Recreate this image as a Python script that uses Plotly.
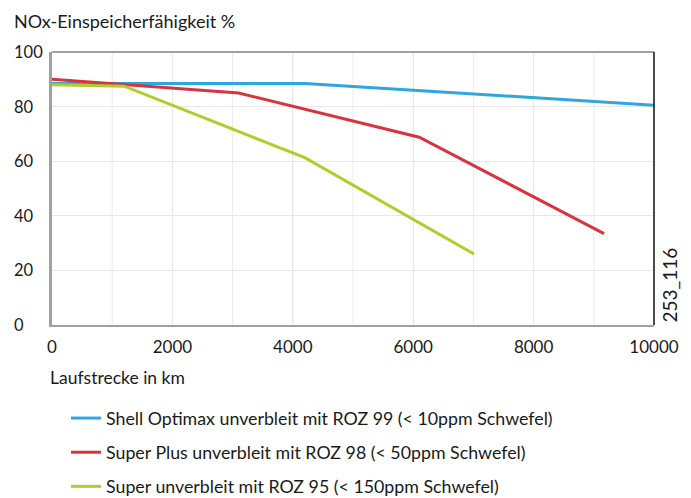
import plotly.graph_objects as go

# ---- data ----
km_optimax = [0, 2500, 4200, 10000]
val_optimax = [88.5, 88.6, 88.5, 80.5]

km_superplus = [0, 3100, 6100, 9170]
val_superplus = [90, 85, 68.8, 33.5]

km_super = [0, 1200, 4200, 7010]
val_super = [88, 87.5, 61.3, 26]

names = [
    "Shell Optimax unverbleit mit ROZ 99 (< 10ppm Schwefel)",
    "Super Plus unverbleit mit ROZ 98 (< 50ppm Schwefel)",
    "Super unverbleit mit ROZ 95 (< 150ppm Schwefel)",
]
colors = ["#2ea7de", "#d8343f", "#b4cb2c"]

x_ticks = [0, 2000, 4000, 6000, 8000, 10000]
x_ticktext = ["0", "2000", "4000", "6000", "8000", "10000"]
y_ticks = [0, 20, 40, 60, 80, 100]

y_title = "NOx-Einspeicherfähigkeit %"
x_title = "Laufstrecke in km"
code_label = "253_116"

FONT = "Lato"
TXT = "#1a1a1a"
OFF = 8                      # page body margin offset
W, H = 691 - OFF, 498 - OFF
# plot box in window pixels: x 52..654, y 52..325
L, T = 52 - OFF, 52 - OFF
PW, PH = 602, 273
R = W - L - PW
B = H - T - PH


def px_x(xwin):
    return (xwin - OFF - L) / PW


def px_y(ywin):
    return (T + PH - (ywin - OFF)) / PH


fig = go.Figure()
for i, (xs, ys) in enumerate([(km_optimax, val_optimax),
                               (km_superplus, val_superplus),
                               (km_super, val_super)]):
    fig.add_trace(go.Scatter(
        x=xs, y=ys, mode="lines", name=names[i],
        line=dict(color=colors[i], width=3),
        legendgroup=f"g{i}",
    ))

fig.update_layout(
    width=W, height=H,
    margin=dict(l=L, r=R, t=T, b=B, autoexpand=False),
    paper_bgcolor="white", plot_bgcolor="white",
    font=dict(family=FONT, size=17, color=TXT),
    showlegend=True,
    legend=dict(
        x=px_x(66), y=px_y(400), xanchor="left", yanchor="top",
        traceorder="grouped", tracegroupgap=8,
        font=dict(family=FONT, size=17.8, color=TXT),
        bgcolor="rgba(0,0,0,0)",
    ),
    xaxis=dict(
        range=[0, 10000], tickvals=x_ticks, ticktext=x_ticktext,
        showgrid=True, gridcolor="#e8e8e8", gridwidth=1,
        showline=True, linecolor="#a0a0a0", linewidth=2,
        ticks="", ticklabelstandoff=6,
        tickfont=dict(family=FONT, size=17, color=TXT),
        zeroline=False,
    ),
    yaxis=dict(
        range=[0, 100], tickvals=y_ticks, showticklabels=False,
        showgrid=True, gridcolor="#e8e8e8", gridwidth=1,
        showline=True, linecolor="#a0a0a0", linewidth=3,
        ticks="", zeroline=False,
    ),
)

# x grid every 1000 km
for v in range(1000, 10000, 1000):
    fig.add_vline(x=v, line=dict(color="#ebebeb", width=1), layer="below")

# frame: top gray, right black
fig.add_shape(type="line", xref="paper", yref="paper", x0=0, x1=1, y0=1, y1=1,
              line=dict(color="#a0a0a0", width=2))
fig.add_shape(type="line", xref="paper", yref="paper", x0=1, x1=1, y0=0, y1=1,
              line=dict(color="#111111", width=1.5))

# left-aligned y tick labels
for v in y_ticks:
    fig.add_annotation(x=px_x(12), xref="paper", y=v, yref="y",
                       text=str(v), showarrow=False, xanchor="left",
                       font=dict(family=FONT, size=16.5, color=TXT))

fig.add_annotation(x=px_x(12), xref="paper", y=px_y(21), yref="paper",
                   text=y_title, showarrow=False, xanchor="left", yanchor="middle",
                   font=dict(family=FONT, size=18, color=TXT))
fig.add_annotation(x=px_x(48), xref="paper", y=px_y(377), yref="paper",
                   text=x_title, showarrow=False, xanchor="left", yanchor="middle",
                   font=dict(family=FONT, size=17.5, color=TXT))
fig.add_annotation(x=px_x(669), xref="paper", y=0.0, yref="paper",
                   text=code_label, showarrow=False, textangle=-90,
                   xanchor="center", yanchor="bottom",
                   font=dict(family=FONT, size=19, color=TXT))

fig.write_html("out.html")
